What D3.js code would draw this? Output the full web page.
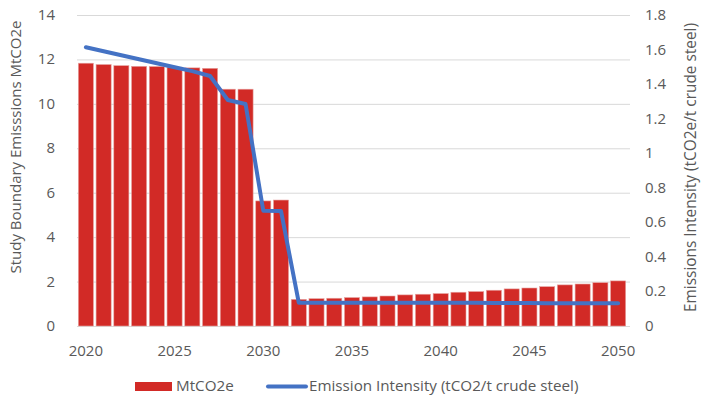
<!DOCTYPE html>
<html><head><meta charset="utf-8">
<script src="https://cdn.jsdelivr.net/npm/d3@7"></script>
<style>body{margin:0;background:#fff;} text{font-family:"Open Sans",Lato,sans-serif;fill:#595959;}</style>
</head><body>
<svg id="c" width="702" height="396"></svg>
<script>
const years = d3.range(2020, 2051);
const emissions = [11.83,11.77,11.72,11.69,11.68,11.65,11.62,11.60,10.66,10.66,5.63,5.67,1.20,1.23,1.25,1.28,1.31,1.35,1.40,1.43,1.46,1.52,1.55,1.61,1.67,1.71,1.77,1.85,1.89,1.95,2.03];
const intensity = [1.613,1.59,1.567,1.544,1.521,1.498,1.475,1.447,1.308,1.285,0.667,0.665,0.135,0.135,0.135,0.135,0.135,0.135,0.135,0.135,0.134,0.134,0.134,0.133,0.133,0.133,0.132,0.132,0.131,0.131,0.131];
const leftTicks = [0,2,4,6,8,10,12,14];
const rightTicks = [0,0.2,0.4,0.6,0.8,1,1.2,1.4,1.6,1.8];
const xTickYears = [2020,2025,2030,2035,2040,2045,2050];
const barName = "MtCO2e";
const lineName = "Emission Intensity (tCO2/t crude steel)";
const leftTitle = "Study Boundary Emisssions MtCO2e";
const rightTitle = "Emissions Intensity (tCO2e/t crude steel)";

const svg = d3.select("#c");
const L = 77, R = 627, T = 15, B = 326;
const x = d3.scaleBand().domain(years).range([L, R]).paddingInner(0.15).paddingOuter(0.075);
const yL = d3.scaleLinear().domain([0,14]).range([B,T]);
const yR = d3.scaleLinear().domain([0,1.8]).range([B,T]);

svg.append("g").selectAll("line").data(leftTicks).join("line")
  .attr("x1", L).attr("x2", R+3).attr("y1", d=>yL(d)+0.5).attr("y2", d=>yL(d)+0.5)
  .attr("stroke", "#d9d9d9").attr("stroke-width", 1);

svg.append("g").selectAll("rect").data(years).join("rect")
  .attr("x", (d)=>x(d)).attr("width", x.bandwidth())
  .attr("y", (d,i)=>yL(emissions[i])).attr("height", (d,i)=>B - yL(emissions[i]))
  .attr("fill", "#d22a26").attr("stroke", "#e6a3a1").attr("stroke-width", 0.6);

const line = d3.line().x((d,i)=>x(years[i]) + x.bandwidth()/2).y(d=>yR(d));
svg.append("path").datum(intensity).attr("d", line)
  .attr("fill","none").attr("stroke","#4472c4").attr("stroke-width",4).attr("stroke-linejoin","round").attr("stroke-linecap","round");

const fs = "15px";
svg.append("g").selectAll("text").data(leftTicks).join("text")
  .attr("x", 55).attr("y", d=>yL(d)+5).attr("text-anchor","end").style("font-size",fs).text(d=>d);
svg.append("g").selectAll("text").data(rightTicks).join("text")
  .attr("x", 645).attr("y", d=>yR(d)+5).attr("text-anchor","start").style("font-size",fs).text(d=>d3.format("~g")(d));
svg.append("g").selectAll("text").data(xTickYears).join("text")
  .attr("x", d=>x(d)+x.bandwidth()/2).attr("y", 356).attr("text-anchor","middle").style("font-size",fs).text(d=>d);

svg.append("text").attr("transform",`translate(21,147) rotate(-90)`).attr("text-anchor","middle").style("font-size","15px").text(leftTitle);
svg.append("text").attr("transform",`translate(696,167.5) rotate(-90)`).attr("text-anchor","middle").style("font-size","15.4px").text(rightTitle);

const lg = svg.append("g");
lg.append("rect").attr("x",135).attr("y",382).attr("width",37).attr("height",9).attr("fill","#d22a26");
lg.append("text").attr("x",176).attr("y",391).style("font-size","15.2px").text(barName);
lg.append("line").attr("x1",268).attr("x2",306).attr("y1",386.5).attr("y2",386.5).attr("stroke","#4472c4").attr("stroke-width",4).attr("stroke-linecap","round");
lg.append("text").attr("x",309).attr("y",391).style("font-size","15.2px").text(lineName);
</script>
</body></html>
